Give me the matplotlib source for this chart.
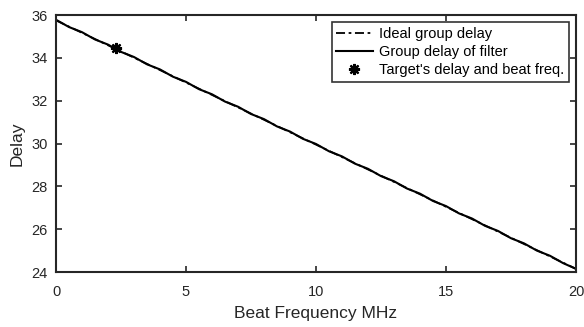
import numpy as np
import matplotlib
matplotlib.use("Agg")
import matplotlib.pyplot as plt

plt.rcParams['font.family'] = ['Liberation Sans', 'DejaVu Sans']

# データ
ideal_x = [0, 20]
ideal_delay = [35.75, 24.15]

filter_x = [0, 0.5, 1, 1.5, 2, 2.5, 3, 3.5, 4, 4.5, 5, 5.5, 6, 6.5, 7, 7.5, 8, 8.5, 9, 9.5,
            10, 10.5, 11, 11.5, 12, 12.5, 13, 13.5, 14, 14.5, 15, 15.5, 16, 16.5, 17, 17.5,
            18, 18.5, 19, 19.5, 20]
filter_delay = [35.78, 35.44, 35.20, 34.86, 34.62, 34.28, 34.04, 33.70, 33.46, 33.12,
                32.88, 32.54, 32.30, 31.96, 31.72, 31.38, 31.14, 30.80, 30.56, 30.22,
                29.98, 29.64, 29.40, 29.06, 28.82, 28.48, 28.24, 27.90, 27.66, 27.32,
                27.08, 26.74, 26.50, 26.16, 25.92, 25.58, 25.34, 25.00, 24.76, 24.42, 24.15]

target_x = [2.3]
target_delay = [34.45]

fig = plt.figure(figsize=(5.84, 3.27), dpi=100)
ax = fig.add_axes([0.0959, 0.168, 0.8904, 0.786])

ax.plot(ideal_x, ideal_delay, color='black', lw=1.3, linestyle=(0, (5, 2, 1.5, 2)),
        label='Ideal group delay')
ax.plot(filter_x, filter_delay, color='black', lw=1.5, label='Group delay of filter')
ax.plot(target_x, target_delay, linestyle='none', marker=(8, 2, 0), markersize=8,
        markeredgewidth=1.6, color='black', label="Target's delay and beat freq.")

ax.set_xlim(0, 20)
ax.set_ylim(24, 36)
ax.set_xticks([0, 5, 10, 15, 20])
ax.set_yticks([24, 26, 28, 30, 32, 34, 36])
ax.tick_params(direction='in', length=4, width=1.2, labelsize=10.5, top=True, right=True,
               colors='#262626')
ax.tick_params(axis='x', pad=9)
ax.tick_params(axis='y', pad=6)
for s in ax.spines.values():
    s.set_linewidth(1.5)
    s.set_color('#262626')

ax.set_xlabel('Beat Frequency MHz', fontsize=12.5, color='#262626', labelpad=5)
ax.set_ylabel('Delay', fontsize=12.5, color='#262626', labelpad=5)

leg = ax.legend(loc='upper right', fontsize=10.5, frameon=True, fancybox=False,
                edgecolor='black', handlelength=2.5, handletextpad=0.45,
                borderpad=0.3, labelspacing=0.3, borderaxespad=0.5)
leg.get_frame().set_linewidth(1.2)

fig.savefig('out.png', dpi=100)
